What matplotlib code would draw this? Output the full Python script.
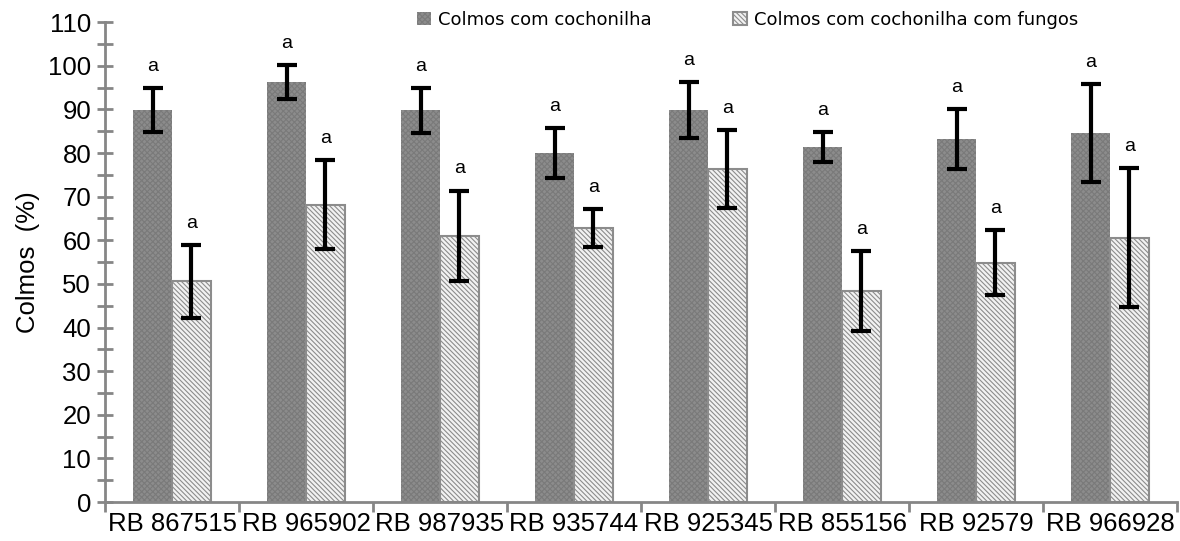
import numpy as np
import matplotlib
matplotlib.use("Agg")
import matplotlib.pyplot as plt

# data
varieties = ["RB 867515", "RB 965902", "RB 987935", "RB 935744",
             "RB 925345", "RB 855156", "RB 92579", "RB 966928"]
com_cochonilha = [89.8, 96.3, 89.8, 80.0, 89.9, 81.4, 83.2, 84.6]
err_cochonilha = [5.0, 3.8, 5.1, 5.7, 6.4, 3.5, 6.9, 11.2]
com_fungos = [50.6, 68.2, 61.0, 62.8, 76.3, 48.4, 54.9, 60.6]
err_fungos = [8.3, 10.2, 10.4, 4.3, 9.0, 9.2, 7.4, 15.9]
letters_cochonilha = ["a"] * 8
letters_fungos = ["a"] * 8
legend_labels = ["Colmos com cochonilha", "Colmos com cochonilha com fungos"]

plt.rcParams['font.family'] = ['Liberation Sans', 'DejaVu Sans']
plt.rcParams['hatch.linewidth'] = 0.8

fig = plt.figure(figsize=(11.8, 5.41), dpi=100)
ax = fig.add_axes([0.089, 0.072, 0.9085, 0.887])

x = np.arange(len(varieties))
w = 0.29
axis_gray = "#868686"

plt.rcParams['hatch.color'] = "#5a5a5a"
b1 = ax.bar(x - w / 2, com_cochonilha, w, color="#8c8c8c", edgecolor="#7a7a7a",
            hatch="xxxxxx", linewidth=0, zorder=2)
plt.rcParams['hatch.color'] = "#6a6a6a"
b2 = ax.bar(x + w / 2, com_fungos, w, color="#f2f2f2", edgecolor="#8c8c8c",
            hatch="\\\\\\\\\\\\\\", linewidth=1.5, zorder=2)

ax.errorbar(x - w / 2, com_cochonilha, yerr=err_cochonilha, fmt="none",
            ecolor="black", elinewidth=3, capsize=7, capthick=3, zorder=3)
ax.errorbar(x + w / 2, com_fungos, yerr=err_fungos, fmt="none",
            ecolor="black", elinewidth=3, capsize=7, capthick=3, zorder=3)

for xi, v, e, t in zip(x - w / 2, com_cochonilha, err_cochonilha, letters_cochonilha):
    ax.text(xi, v + e + 3, t, ha="center", va="bottom", fontsize=14)
for xi, v, e, t in zip(x + w / 2, com_fungos, err_fungos, letters_fungos):
    ax.text(xi, v + e + 3, t, ha="center", va="bottom", fontsize=14)

ax.set_xlim(-0.5, len(varieties) - 0.5)
ax.set_ylim(0, 110)
ax.set_yticks(np.arange(0, 111, 10))
ax.set_yticks(np.arange(5, 110, 10), minor=True)
ax.set_xticks(np.arange(-0.5, len(varieties), 1))
ax.set_xticklabels([])
ax.set_xticks(x, minor=True)
ax.set_xticklabels(varieties, minor=True)

ax.tick_params(axis="y", which="both", direction="inout", length=12, width=2,
               color=axis_gray, labelsize=18.5, pad=4)
ax.tick_params(axis="x", which="major", direction="out", length=7, width=2,
               color=axis_gray)
ax.tick_params(axis="x", which="minor", length=0, labelsize=18.5, pad=7)

for s in ["top", "right"]:
    ax.spines[s].set_visible(False)
for s in ["left", "bottom"]:
    ax.spines[s].set_color(axis_gray)
    ax.spines[s].set_linewidth(2)

ax.set_ylabel("Colmos  (%)", fontsize=18.5, labelpad=6)

fig.legend([b1, b2], legend_labels, ncol=2, frameon=False,
           loc="upper left", bbox_to_anchor=(0.34, 1.01),
           prop={'family': ['Liberation Sans Narrow', 'DejaVu Sans'], 'size': 13},
           handlelength=0.75, handleheight=0.75, handletextpad=0.4,
           columnspacing=4.5)

fig.savefig("out.png", dpi=100)
